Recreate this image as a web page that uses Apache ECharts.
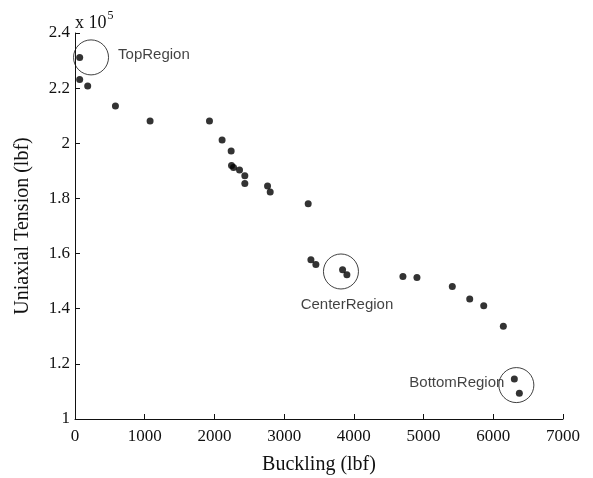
<!DOCTYPE html>
<html>
<head>
<meta charset="utf-8">
<script src="https://cdn.jsdelivr.net/npm/echarts@6/dist/echarts.min.js"></script>
<style>
  html, body { margin: 0; padding: 0; background: #fff; }
  #chart { width: 593px; height: 478px; }
</style>
</head>
<body>
<div id="chart"></div>
<script>
// Measured samples: buckling load vs. uniaxial tension (lbf)
const buckling = [67, 67, 182, 580, 1077, 1929, 2110, 2240, 2245, 2274, 2360, 2436, 2436,
  2762, 2800, 3345, 3384, 3455, 3838, 3900, 4704, 4905, 5412, 5662, 5863, 6144, 6302, 6374];
const tension = [231150, 223100, 220800, 213500, 208100, 208100, 201200, 197200, 191900, 191250,
  190300, 188200, 185400, 184500, 182300, 178100, 157800, 156000, 154150, 152300, 151700,
  151350, 148100, 143500, 141100, 133600, 114500, 109300];

// Highlighted regions (circle centres) and their captions
const regionNames = ['TopRegion', 'CenterRegion', 'BottomRegion'];
const regionX = [230, 3815, 6331];
const regionY = [231150, 153500, 112300];

// Axis ticks
const xTicks = [0, 1000, 2000, 3000, 4000, 5000, 6000, 7000];
const yTicks = [100000, 120000, 140000, 160000, 180000, 200000, 220000, 240000];

const points = buckling.map((b, i) => [b, tension[i]]);

const labelStyles = [
  { position: 'right', distance: 9, offset: [0, -3] },
  { position: 'bottom', distance: 8, offset: [6, 0] },
  { position: 'left', distance: -6, offset: [0, -2] }
];
const regions = regionNames.map((name, i) => ({
  name: name,
  value: [regionX[i], regionY[i]],
  label: Object.assign({ show: true, formatter: name }, labelStyles[i])
}));

const serif = '"Liberation Serif", "Times New Roman", serif';
const sans = '"Liberation Sans", Arial, Helvetica, sans-serif';
const ink = '#111';

const chart = echarts.init(document.getElementById('chart'), null, { renderer: 'canvas' });
chart.setOption({
  animation: false,
  backgroundColor: '#fff',
  grid: { left: 75, right: 30, top: 33, bottom: 59, containLabel: false, outerBoundsMode: 'none' },
  xAxis: {
    type: 'value',
    min: xTicks[0], max: xTicks[xTicks.length - 1], interval: 1000,
    name: 'Buckling (lbf)', nameLocation: 'middle', nameGap: 36,
    nameTextStyle: { fontFamily: serif, fontSize: 20, color: ink },
    axisLine: { show: true, onZero: false, lineStyle: { color: ink, width: 1 } },
    axisTick: { show: true, inside: true, length: 5, lineStyle: { color: ink } },
    axisLabel: { fontFamily: serif, fontSize: 17, color: ink, margin: 9, formatter: v => String(v) },
    splitLine: { show: false }
  },
  yAxis: {
    type: 'value',
    min: yTicks[0], max: yTicks[yTicks.length - 1], interval: 20000,
    name: 'Uniaxial Tension (lbf)', nameLocation: 'middle', nameGap: 42,
    nameTextStyle: { fontFamily: serif, fontSize: 20, color: ink },
    axisLine: { show: true, onZero: false, lineStyle: { color: ink, width: 1 } },
    axisTick: { show: true, inside: true, length: 5, lineStyle: { color: ink } },
    axisLabel: {
      fontFamily: serif, fontSize: 17, color: ink, margin: 5,
      formatter: v => String(+(v / 1e5).toFixed(1))
    },
    splitLine: { show: false }
  },
  graphic: [{
    type: 'text', left: 75, top: 10,
    style: {
      text: '{b|x 10}{s|5}',
      rich: {
        b: { fontFamily: serif, fontSize: 18, fill: ink, verticalAlign: 'bottom' },
        s: { fontFamily: serif, fontSize: 12, fill: ink, verticalAlign: 'top', padding: [0, 0, 10, 1] }
      }
    }
  }],
  series: [
    {
      type: 'scatter',
      data: points,
      symbol: 'circle',
      symbolSize: 7,
      itemStyle: { color: '#000' },
      z: 3
    },
    {
      type: 'scatter',
      data: regions,
      symbol: 'circle',
      symbolSize: 35,
      itemStyle: { color: 'rgba(0,0,0,0)', borderColor: ink, borderWidth: 1 },
      label: { fontFamily: sans, fontSize: 15, color: ink },
      emphasis: { disabled: true },
      silent: true,
      z: 2
    }
  ]
});
</script>
</body>
</html>
